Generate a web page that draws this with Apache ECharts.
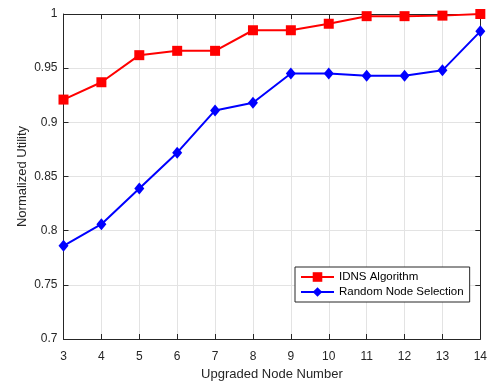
<!DOCTYPE html>
<html>
<head>
<meta charset="utf-8">
<script src="https://cdn.jsdelivr.net/npm/echarts@6/dist/echarts.min.js"></script>
<style>
  html, body { margin: 0; padding: 0; background: #fff; }
  #chart { width: 490px; height: 386px; }
</style>
</head>
<body>
<div id="chart"></div>
<script>
// Number of upgraded nodes on the x axis
const nodeNumbers = [3, 4, 5, 6, 7, 8, 9, 10, 11, 12, 13, 14];
// Normalized utility for each strategy
const idnsUtility = [0.921, 0.937, 0.962, 0.966, 0.966, 0.985, 0.985, 0.991, 0.998, 0.998, 0.9985, 1.0];
const randomUtility = [0.786, 0.806, 0.839, 0.872, 0.911, 0.918, 0.945, 0.945, 0.943, 0.943, 0.948, 0.984];
const seriesNames = ['IDNS Algorithm', 'Random Node Selection'];

const toPairs = (ys) => nodeNumbers.map((x, i) => [x, ys[i]]);

const textColor = '#262626';
const font = 'Liberation Sans, Arial, sans-serif';

const chart = echarts.init(document.getElementById('chart'), null, { renderer: 'canvas' });

// Boxed frame with inward ticks on all four sides
const axisLineStyle = { show: true, lineStyle: { color: textColor, width: 1 } };
const tickStyle = { show: true, inside: true, length: 5, lineStyle: { color: textColor } };

chart.setOption({
  animation: false,
  backgroundColor: '#fff',
  grid: { left: 63.5, right: 9, top: 14, bottom: 43, containLabel: false },
  xAxis: [
    {
      type: 'value', min: 3, max: 14, interval: 1, position: 'bottom',
      name: 'Upgraded Node Number', nameLocation: 'middle', nameGap: 29, nameMoveOverlap: false,
      nameTextStyle: { color: textColor, fontSize: 13, fontFamily: font },
      axisLine: axisLineStyle, axisTick: tickStyle,
      axisLabel: { color: textColor, fontSize: 12, fontFamily: font, margin: 12 },
      splitLine: { show: true, lineStyle: { color: '#e3e3e3', width: 1 } }
    },
    {
      type: 'value', min: 3, max: 14, interval: 1, position: 'top',
      axisLine: axisLineStyle, axisTick: tickStyle,
      axisLabel: { show: false }, splitLine: { show: false }
    }
  ],
  yAxis: [
    {
      type: 'value', min: 0.7, max: 1, interval: 0.05, position: 'left',
      name: 'Normalized Utility', nameLocation: 'middle', nameGap: 35, nameMoveOverlap: false,
      nameTextStyle: { color: textColor, fontSize: 13, fontFamily: font },
      axisLine: axisLineStyle, axisTick: tickStyle,
      axisLabel: {
        color: textColor, fontSize: 12, fontFamily: font, margin: 6,
        formatter: (v) => String(parseFloat(v.toFixed(2)))
      },
      splitLine: { show: true, lineStyle: { color: '#e3e3e3', width: 1 } }
    },
    {
      type: 'value', min: 0.7, max: 1, interval: 0.05, position: 'right',
      axisLine: axisLineStyle, axisTick: tickStyle,
      axisLabel: { show: false }, splitLine: { show: false }
    }
  ],
  legend: {
    orient: 'vertical',
    left: 295, top: 267,
    padding: [4, 6, 4, 5],
    itemGap: 3,
    itemWidth: 33, itemHeight: 12,
    backgroundColor: '#fff',
    borderColor: textColor, borderWidth: 1,
    textStyle: { color: '#000', fontSize: 11.5, fontFamily: font },
    data: seriesNames
  },
  series: [
    {
      name: seriesNames[0], type: 'line', xAxisIndex: 0, yAxisIndex: 0,
      data: toPairs(idnsUtility),
      symbol: 'rect', symbolSize: 10,
      lineStyle: { color: '#ff0000', width: 2 },
      itemStyle: { color: '#ff0000' },
      z: 3
    },
    {
      name: seriesNames[1], type: 'line', xAxisIndex: 0, yAxisIndex: 0,
      data: toPairs(randomUtility),
      symbol: 'diamond', symbolSize: [10, 12],
      lineStyle: { color: '#0000ff', width: 2 },
      itemStyle: { color: '#0000ff' },
      z: 3
    }
  ]
});
</script>
</body>
</html>
